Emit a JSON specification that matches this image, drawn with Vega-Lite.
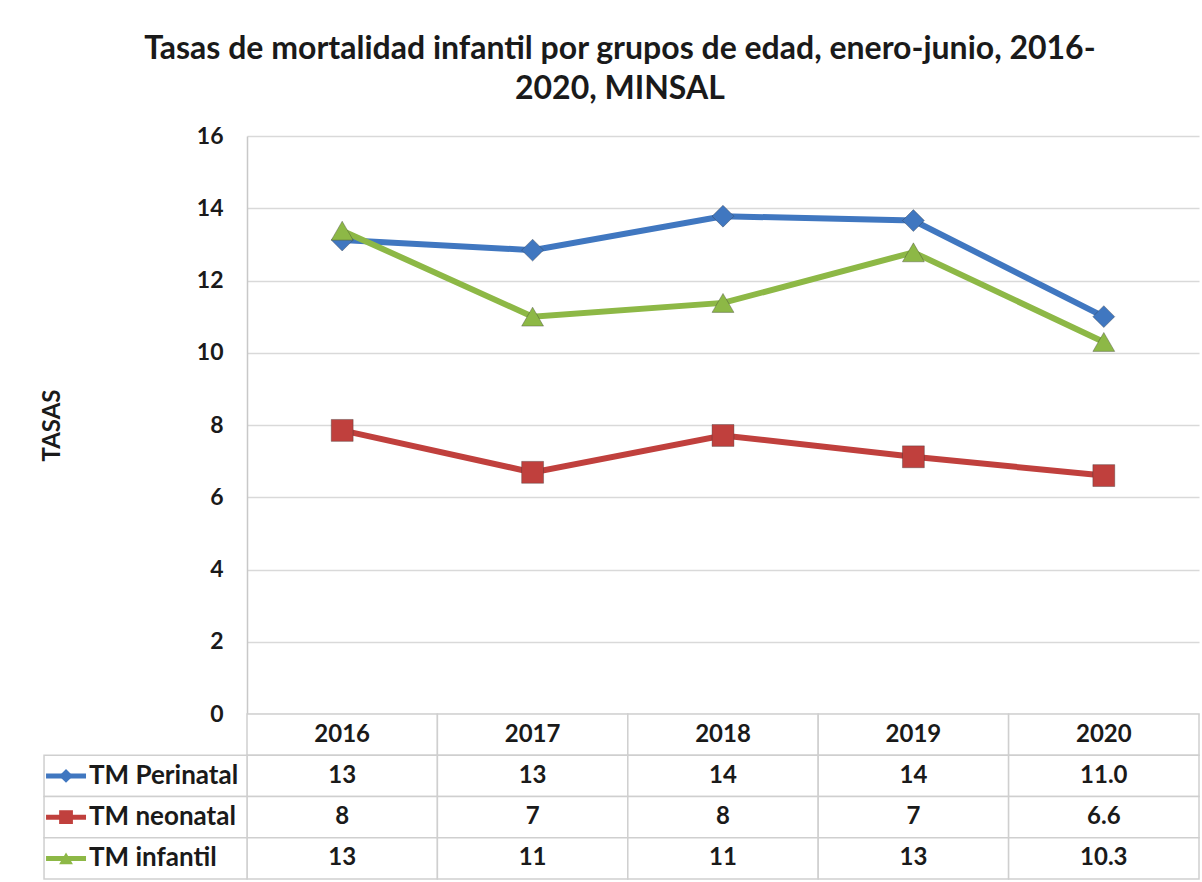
{
  "$schema": "https://vega.github.io/schema/vega-lite/v6.json",
  "background": "white",
  "padding": {"left": 40, "top": 33, "right": 5, "bottom": 0},
  "spacing": 0,
  "bounds": "flush",
  "config": {
    "view": {"stroke": null},
    "font": "Lato",
    "text": {"font": "Lato"}
  },
  "title": {
    "text": ["Tasas de mortalidad infantil por grupos de edad, enero-junio, 2016-", "2020, MINSAL"],
    "font": "Lato",
    "fontSize": 32,
    "fontWeight": "bold",
    "color": "#1a1a1a",
    "lineHeight": 40,
    "anchor": "middle",
    "offset": 19
  },
  "datasets": {
    "serie": [
      {"serie": "TM Perinatal", "anio": "2016", "valor": 13.12},
      {"serie": "TM Perinatal", "anio": "2017", "valor": 12.84},
      {"serie": "TM Perinatal", "anio": "2018", "valor": 13.78},
      {"serie": "TM Perinatal", "anio": "2019", "valor": 13.66},
      {"serie": "TM Perinatal", "anio": "2020", "valor": 11.0},
      {"serie": "TM neonatal", "anio": "2016", "valor": 7.85},
      {"serie": "TM neonatal", "anio": "2017", "valor": 6.69},
      {"serie": "TM neonatal", "anio": "2018", "valor": 7.71},
      {"serie": "TM neonatal", "anio": "2019", "valor": 7.12},
      {"serie": "TM neonatal", "anio": "2020", "valor": 6.6},
      {"serie": "TM infantil", "anio": "2016", "valor": 13.38},
      {"serie": "TM infantil", "anio": "2017", "valor": 11.0},
      {"serie": "TM infantil", "anio": "2018", "valor": 11.38},
      {"serie": "TM infantil", "anio": "2019", "valor": 12.78},
      {"serie": "TM infantil", "anio": "2020", "valor": 10.3}
    ],
    "tabla": [
      {"fila": "encabezado", "anio": "2016", "texto": "2016"},
      {"fila": "encabezado", "anio": "2017", "texto": "2017"},
      {"fila": "encabezado", "anio": "2018", "texto": "2018"},
      {"fila": "encabezado", "anio": "2019", "texto": "2019"},
      {"fila": "encabezado", "anio": "2020", "texto": "2020"},
      {"fila": "TM Perinatal", "anio": "2016", "texto": "13"},
      {"fila": "TM Perinatal", "anio": "2017", "texto": "13"},
      {"fila": "TM Perinatal", "anio": "2018", "texto": "14"},
      {"fila": "TM Perinatal", "anio": "2019", "texto": "14"},
      {"fila": "TM Perinatal", "anio": "2020", "texto": "11.0"},
      {"fila": "TM neonatal", "anio": "2016", "texto": "8"},
      {"fila": "TM neonatal", "anio": "2017", "texto": "7"},
      {"fila": "TM neonatal", "anio": "2018", "texto": "8"},
      {"fila": "TM neonatal", "anio": "2019", "texto": "7"},
      {"fila": "TM neonatal", "anio": "2020", "texto": "6.6"},
      {"fila": "TM infantil", "anio": "2016", "texto": "13"},
      {"fila": "TM infantil", "anio": "2017", "texto": "11"},
      {"fila": "TM infantil", "anio": "2018", "texto": "11"},
      {"fila": "TM infantil", "anio": "2019", "texto": "13"},
      {"fila": "TM infantil", "anio": "2020", "texto": "10.3"}
    ],
    "leyenda": [
      {"fila": "TM Perinatal"},
      {"fila": "TM neonatal"},
      {"fila": "TM infantil"}
    ]
  },
  "vconcat": [
    {
      "width": 952,
      "height": 578,
      "data": {"name": "serie"},
      "encoding": {
        "x": {"field": "anio", "type": "ordinal", "scale": {"type": "point", "padding": 0.5}, "axis": null},
        "y": {
          "field": "valor", "type": "quantitative",
          "scale": {"domain": [0, 16], "nice": false},
          "axis": {
            "values": [0, 2, 4, 6, 8, 10, 12, 14, 16],
            "title": "TASAS",
            "titleFont": "Lato", "titleFontSize": 24, "titleFontWeight": "bold", "titleColor": "#1a1a1a",
            "titlePadding": 133,
            "labelFont": "Lato", "labelFontSize": 23, "labelFontWeight": "bold", "labelColor": "#1a1a1a",
            "labelPadding": 24,
            "ticks": false,
            "domain": true, "domainColor": "#c8c8c8", "domainWidth": 1.5,
            "grid": true, "gridColor": "#d9d9d9", "gridWidth": 1.5,
            "minExtent": 50, "maxExtent": 50
          }
        },
        "color": {
          "field": "serie", "type": "nominal",
          "scale": {"domain": ["TM Perinatal", "TM neonatal", "TM infantil"], "range": ["#4077C0", "#C0403D", "#8DB846"]},
          "legend": null
        }
      },
      "layer": [
        {"mark": {"type": "line", "strokeWidth": 6}},
        {
          "mark": {"type": "point", "filled": true, "opacity": 1, "size": 480, "stroke": "#333333", "strokeOpacity": 0.35, "strokeWidth": 1},
          "encoding": {
            "shape": {
              "field": "serie", "type": "nominal",
              "scale": {"domain": ["TM Perinatal", "TM neonatal", "TM infantil"], "range": ["diamond", "square", "triangle-up"]},
              "legend": null
            }
          }
        }
      ]
    },
    {
      "width": 952,
      "height": 165,
      "resolve": {"scale": {"x": "independent"}},
      "encoding": {
        "y": {"field": "fila", "type": "ordinal", "scale": {"domain": ["encabezado", "TM Perinatal", "TM neonatal", "TM infantil"], "paddingInner": 0, "paddingOuter": 0}, "axis": null}
      },
      "layer": [
        {
          "data": {"name": "tabla"},
          "encoding": {
            "x": {"field": "anio", "type": "ordinal", "scale": {"type": "band", "paddingInner": 0, "paddingOuter": 0}, "axis": null}
          },
          "layer": [
            {"mark": {"type": "rect", "fill": "white", "stroke": "#cfcfcf", "strokeWidth": 1.5}},
            {
              "mark": {"type": "text", "baseline": "middle", "font": "Lato", "fontSize": 24, "fontWeight": "bold", "color": "#1a1a1a"},
              "encoding": {"text": {"field": "texto"}}
            }
          ]
        },
        {
          "data": {"name": "leyenda"},
          "layer": [
            {
              "mark": {"type": "rect", "fill": "white", "stroke": "#cfcfcf", "strokeWidth": 1.5},
              "encoding": {
                "x": {"datum": -0.2132, "type": "quantitative", "scale": {"domain": [0, 1], "nice": false, "zero": false}, "axis": null},
                "x2": {"datum": 0}
              }
            },
            {
              "mark": {"type": "rule", "strokeWidth": 5},
              "encoding": {
                "x": {"datum": -0.2111, "type": "quantitative"},
                "x2": {"datum": -0.1691},
                "color": {"field": "fila", "type": "nominal", "scale": {"domain": ["TM Perinatal", "TM neonatal", "TM infantil"], "range": ["#4077C0", "#C0403D", "#8DB846"]}, "legend": null}
              }
            },
            {
              "mark": {"type": "point", "filled": true, "opacity": 1, "size": 190},
              "encoding": {
                "x": {"datum": -0.1901, "type": "quantitative"},
                "color": {"field": "fila", "type": "nominal", "scale": {"domain": ["TM Perinatal", "TM neonatal", "TM infantil"], "range": ["#4077C0", "#C0403D", "#8DB846"]}, "legend": null},
                "shape": {"field": "fila", "type": "nominal", "scale": {"domain": ["TM Perinatal", "TM neonatal", "TM infantil"], "range": ["diamond", "square", "triangle-up"]}, "legend": null}
              }
            },
            {
              "mark": {"type": "text", "align": "left", "baseline": "middle", "font": "Lato", "fontSize": 26, "fontWeight": "bold", "color": "#1a1a1a"},
              "encoding": {
                "x": {"datum": -0.166, "type": "quantitative"},
                "text": {"field": "fila"}
              }
            }
          ]
        }
      ]
    }
  ]
}
